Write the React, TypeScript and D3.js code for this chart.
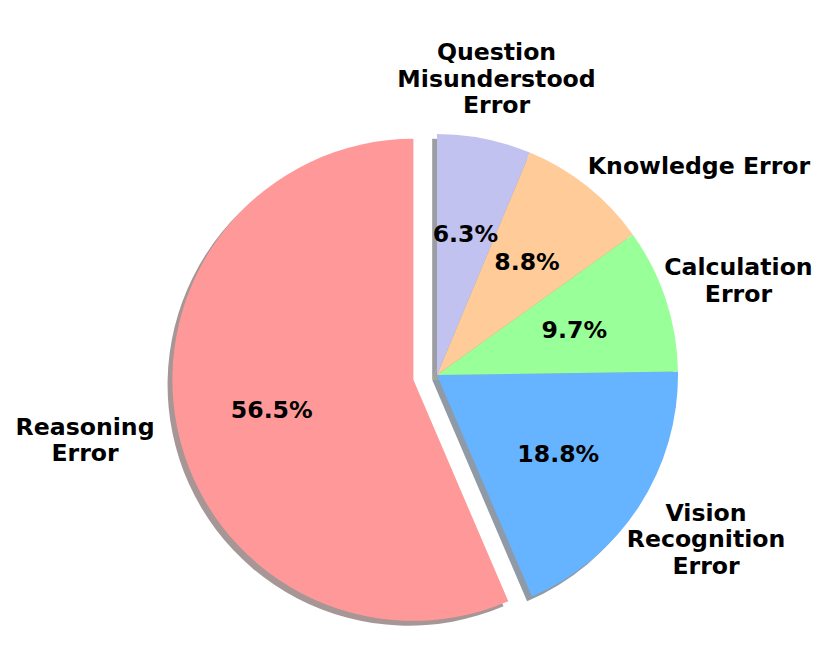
import React, { useLayoutEffect } from "react";
import * as d3 from "d3";

const categories = [
  "Reasoning Error",
  "Vision Recognition Error",
  "Calculation Error",
  "Knowledge Error",
  "Question Misunderstood Error",
];
const labelLines = [
  ["Reasoning", "Error"],
  ["Vision", "Recognition", "Error"],
  ["Calculation", "Error"],
  ["Knowledge Error"],
  ["Question", "Misunderstood", "Error"],
];
const values = [56.5, 18.8, 9.7, 8.8, 6.3];
const colors = ["#ff9999", "#66b3ff", "#99ff99", "#ffcc99", "#c2c2f0"];
const explode = [0.1, 0, 0, 0, 0];
// label nudges (fractions of radius) relative to the default label anchor
const labelNudge = [
  [-0.131, -0.005],
  [0.062, -0.006],
  [0.057, 0.0],
  [0.305, 0.114],
  [0.0, 0.0],
];

const W = 831;
const H = 660;
const cx = 437;
const cy = 375;
const R = 241;
const FONT = 23.6;
const LH = 26.6;
const CAP = 0.729 * FONT;

export default function App() {
  useLayoutEffect(() => {
    document.body.style.margin = "0";
  }, []);

  const pie = d3
    .pie<number>()
    .sort(null)
    .startAngle(0)
    .endAngle(-2 * Math.PI)
    .value((d) => d);
  const arcs = pie(values);
  const arcGen = d3.arc<d3.PieArcDatum<number>>().innerRadius(0).outerRadius(R);

  const offs = arcs.map((a, i) => {
    const mid = (a.startAngle + a.endAngle) / 2;
    return [Math.sin(mid) * explode[i] * R, -Math.cos(mid) * explode[i] * R];
  });
  const sdx = -0.02 * R;
  const sdy = 0.02 * R;

  const shadowColor = (c: string) => {
    const rgb = d3.rgb(c);
    return d3.rgb(rgb.r * 0.3, rgb.g * 0.3, rgb.b * 0.3).formatHex();
  };

  return (
    <svg width={W} height={H} style={{ display: "block", background: "#fff" }}>
      <g transform={`translate(${cx},${cy})`}>
        {arcs.map((a, i) => (
          <path
            key={"s" + i}
            d={arcGen(a) || ""}
            transform={`translate(${offs[i][0] + sdx},${offs[i][1] + sdy})`}
            fill={shadowColor(colors[i])}
            fillOpacity={0.5}
          />
        ))}
        {arcs.map((a, i) => (
          <path
            key={"w" + i}
            d={arcGen(a) || ""}
            transform={`translate(${offs[i][0]},${offs[i][1]})`}
            fill={colors[i]}
          />
        ))}
        {arcs.map((a, i) => {
          const mid = (a.startAngle + a.endAngle) / 2;
          const r = 0.6 * R;
          const x = offs[i][0] + Math.sin(mid) * r;
          const y = offs[i][1] - Math.cos(mid) * r;
          return (
            <text
              key={"p" + i}
              x={x}
              y={y + CAP / 2}
              textAnchor="middle"
              fontFamily="DejaVu Sans"
              fontWeight="bold"
              fontSize={FONT}
              fill="#000"
            >
              {values[i].toFixed(1) + "%"}
            </text>
          );
        })}
        {arcs.map((a, i) => {
          const mid = (a.startAngle + a.endAngle) / 2;
          const r = 1.257 * R;
          const x = offs[i][0] + Math.sin(mid) * r + labelNudge[i][0] * R;
          const y = offs[i][1] - Math.cos(mid) * r + labelNudge[i][1] * R;
          const lines = labelLines[i];
          const n = lines.length;
          return (
            <text
              key={"l" + i}
              textAnchor="middle"
              fontFamily="DejaVu Sans"
              fontWeight="bold"
              fontSize={FONT}
              fill="#000"
            >
              <title>{categories[i]}</title>
              {lines.map((ln, j) => (
                <tspan key={j} x={x} y={y + (j - (n - 1) / 2) * LH + CAP / 2}>
                  {ln}
                </tspan>
              ))}
            </text>
          );
        })}
      </g>
    </svg>
  );
}
